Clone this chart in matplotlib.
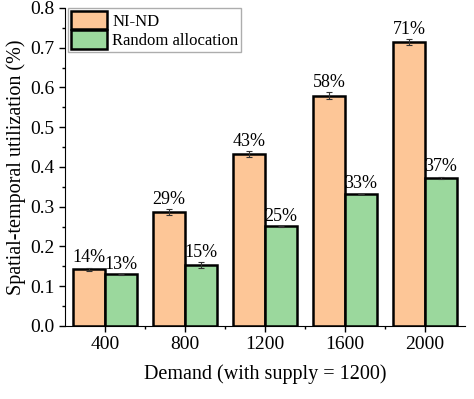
import numpy as np
import matplotlib.pyplot as plt
from matplotlib.ticker import MultipleLocator

plt.rcParams['font.family'] = ['Liberation Serif', 'DejaVu Serif']

# datos
demand = ['400', '800', '1200', '1600', '2000']
nind = [0.143, 0.287, 0.432, 0.579, 0.714]
nind_err = [0.004, 0.007, 0.007, 0.009, 0.008]
rand_alloc = [0.130, 0.153, 0.251, 0.332, 0.373]
rand_err = [0.001, 0.008, 0.001, 0.001, 0.003]
nind_labels = ['14%', '29%', '43%', '58%', '71%']
rand_labels = ['13%', '15%', '25%', '33%', '37%']

fig = plt.figure(figsize=(4.74, 3.99), dpi=100)
ax = fig.add_axes([0.137, 0.183, 0.844, 0.797])

x = np.arange(1, len(demand) + 1)
w = 0.4
ax.bar(x - w / 2, nind, w, yerr=nind_err, color='#fdc697', edgecolor='black',
       linewidth=1.8, label='NI-ND', capsize=2.5,
       error_kw=dict(elinewidth=0.8, capthick=0.8, ecolor='#333333'))
ax.bar(x + w / 2, rand_alloc, w, yerr=rand_err, color='#9bd89d', edgecolor='black',
       linewidth=1.8, label='Random allocation', capsize=2.5,
       error_kw=dict(elinewidth=0.8, capthick=0.8, ecolor='#333333'))

# etiquetas de porcentaje
for xi, v, e, t in zip(x - w / 2, nind, nind_err, nind_labels):
    ax.text(xi, v + e + 0.003, t, ha='center', va='bottom', fontsize=13)
for xi, v, e, t in zip(x + w / 2, rand_alloc, rand_err, rand_labels):
    ax.text(xi, v + e + 0.003, t, ha='center', va='bottom', fontsize=13)

ax.set_xlim(0.5, 5.5)
ax.set_ylim(0, 0.8)
ax.set_xticks(x)
ax.set_xticklabels(demand)
ax.xaxis.set_minor_locator(plt.FixedLocator(np.arange(1.5, 5.5, 1)))
ax.yaxis.set_major_locator(MultipleLocator(0.1))
ax.yaxis.set_minor_locator(MultipleLocator(0.05))
ax.yaxis.set_major_formatter(plt.FormatStrFormatter('%.1f'))
ax.tick_params(axis='both', which='major', labelsize=14, direction='out', length=4, width=1)
ax.tick_params(axis='both', which='minor', direction='out', length=2.5, width=1)

ax.spines['top'].set_visible(False)
ax.spines['right'].set_visible(False)

ax.set_xlabel('Demand (with supply = 1200)', fontsize=14.5, labelpad=8)
ax.set_ylabel('Spatial-temporal utilization (%)', fontsize=14.5, labelpad=3)

leg = ax.legend(loc='upper left', fontsize=12, fancybox=False, edgecolor='#999999',
                borderaxespad=0.2, handlelength=2.2, handleheight=1.35,
                handletextpad=0.3, labelspacing=0.05, borderpad=0.15,
                bbox_to_anchor=(0.0, 1.01))
leg.get_frame().set_linewidth(1)

fig.savefig('out.png', dpi=100)
